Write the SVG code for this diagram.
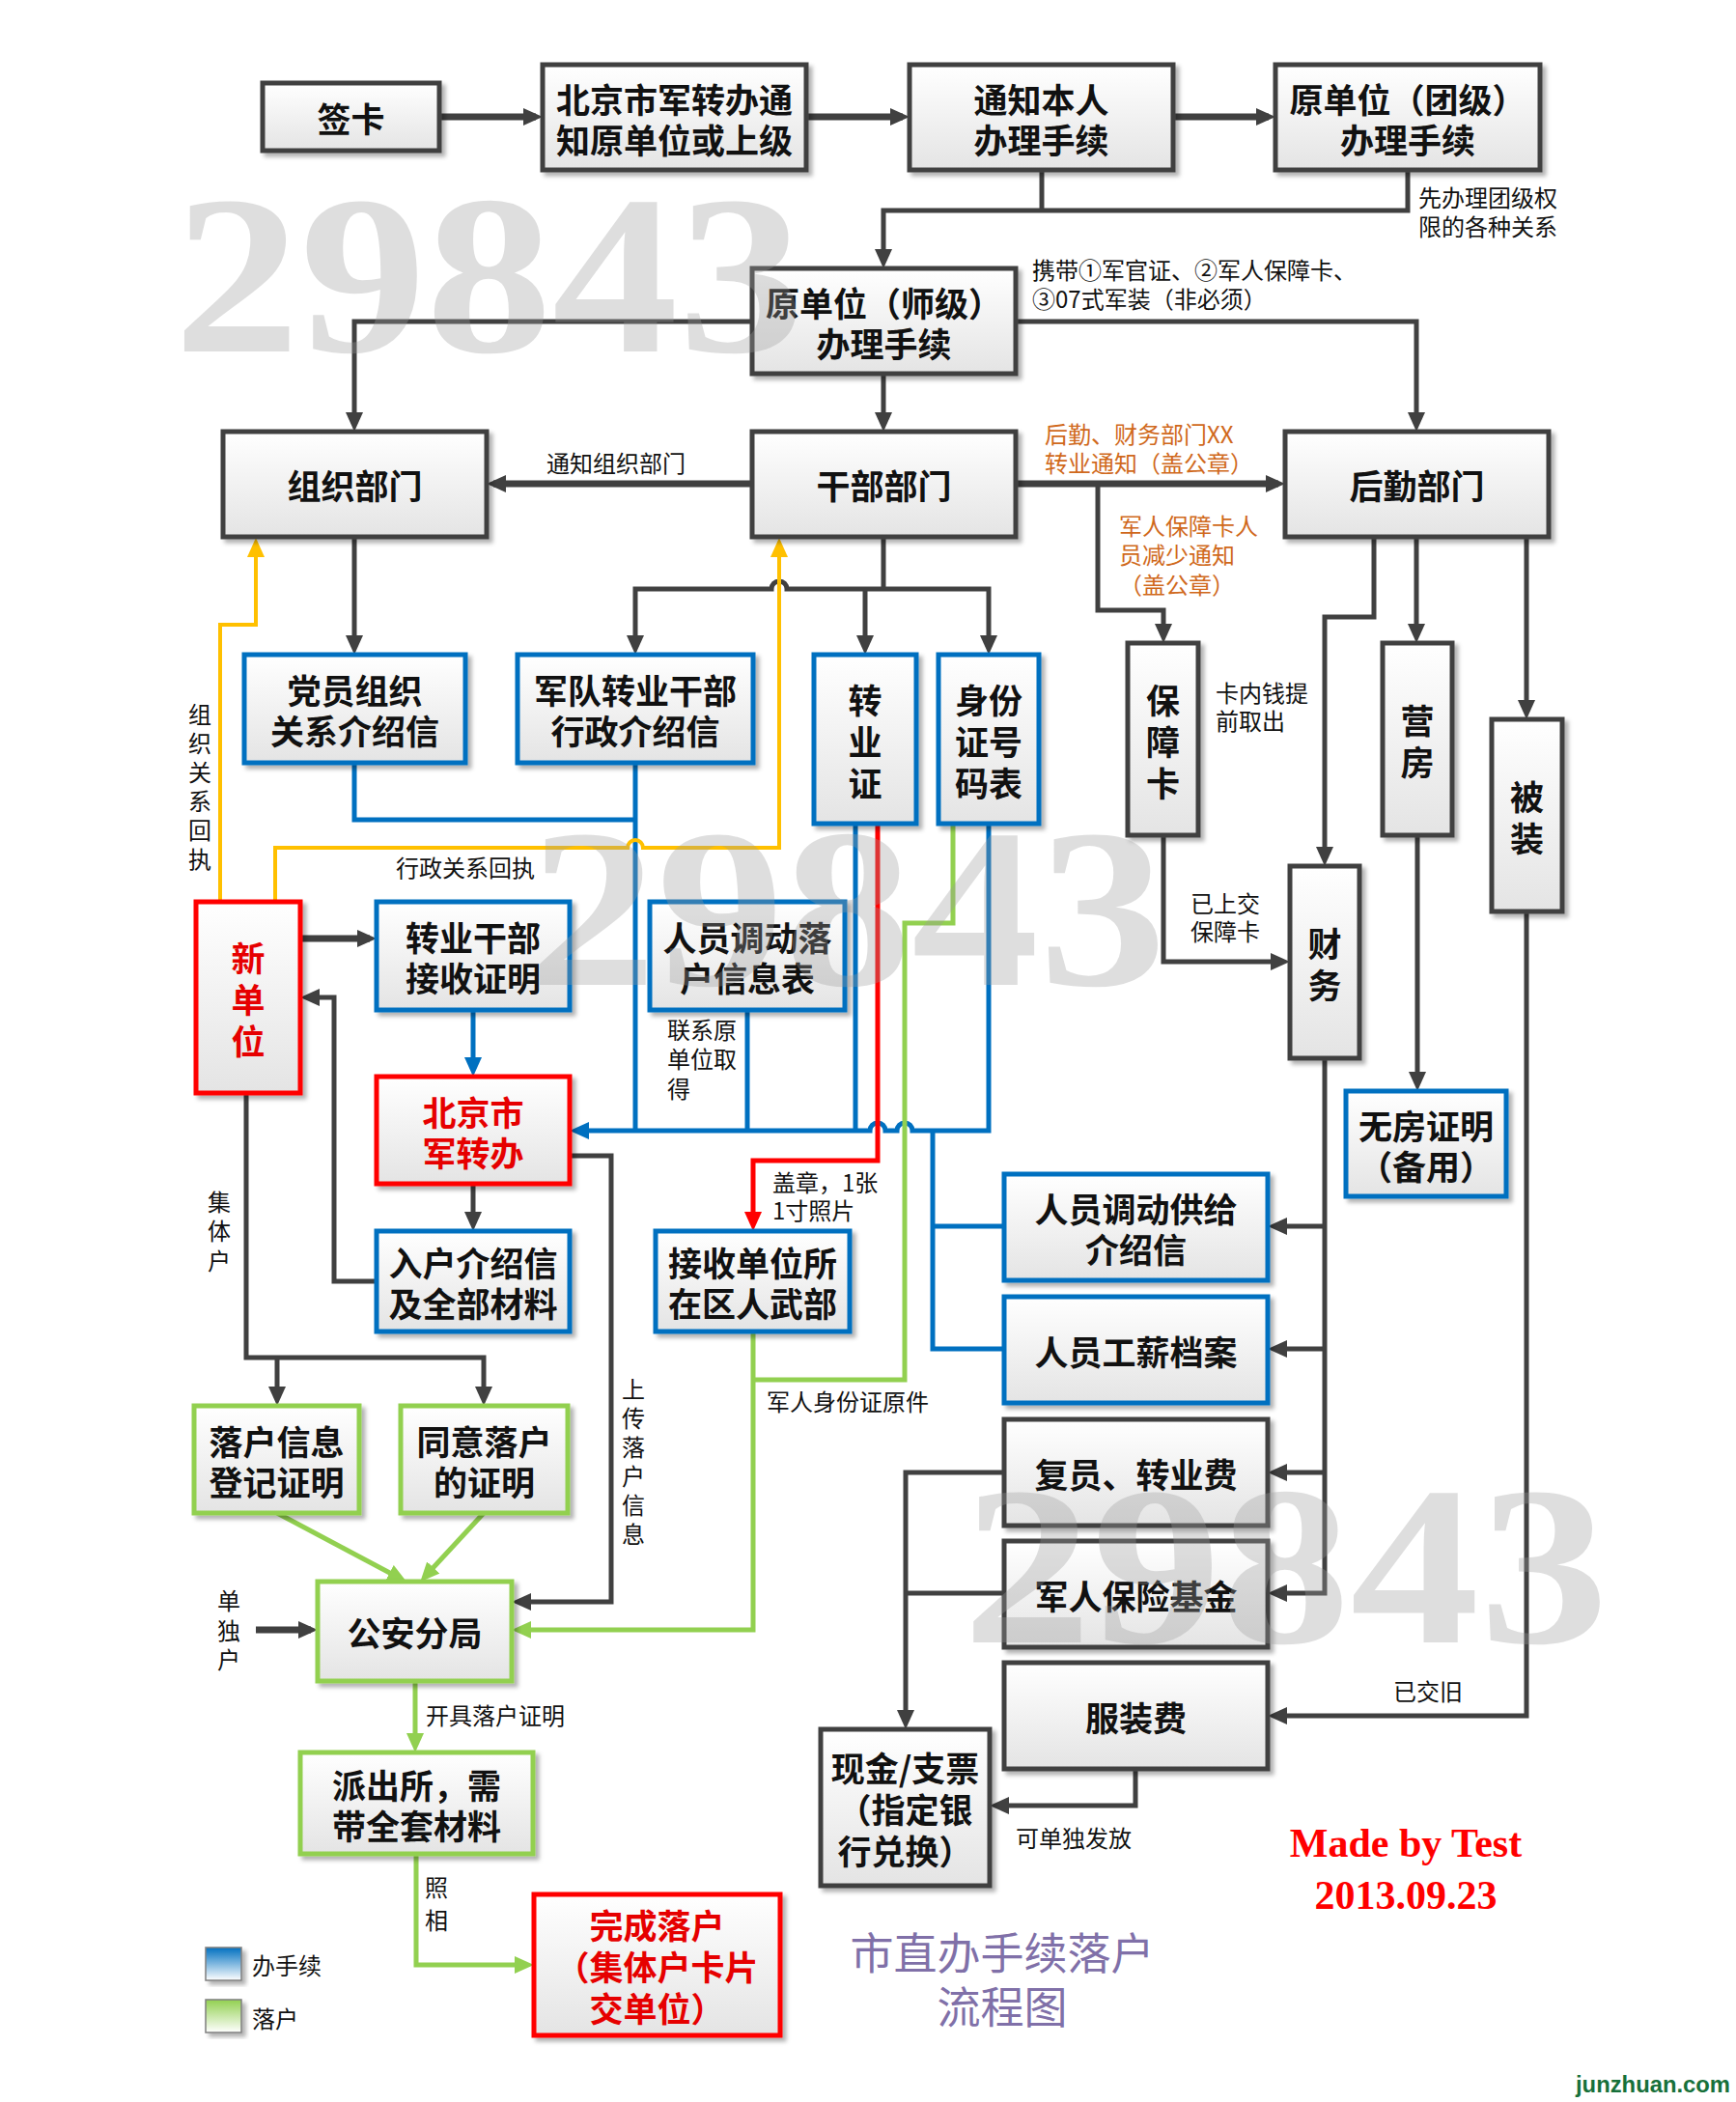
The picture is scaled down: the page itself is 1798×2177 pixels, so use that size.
<svg xmlns="http://www.w3.org/2000/svg" width="1798" height="2177" viewBox="0 0 1798 2177">
<defs>
<linearGradient id="gFill" x1="0" y1="0" x2="0" y2="1"><stop offset="0" stop-color="#ffffff"/><stop offset="1" stop-color="#e4e4e4"/></linearGradient>
<linearGradient id="gBlue" x1="0" y1="0" x2="0" y2="1"><stop offset="0" stop-color="#0070C0"/><stop offset="1" stop-color="#ffffff"/></linearGradient>
<linearGradient id="gGreen" x1="0" y1="0" x2="0" y2="1"><stop offset="0" stop-color="#92D050"/><stop offset="1" stop-color="#ffffff"/></linearGradient>
<filter id="sh" x="-10%" y="-10%" width="130%" height="130%"><feDropShadow dx="4" dy="4" stdDeviation="2" flood-color="#000" flood-opacity="0.3"/></filter>
<marker id="aK" markerUnits="userSpaceOnUse" markerWidth="20" markerHeight="18" refX="13" refY="9" orient="auto-start-reverse"><path d="M0,0 L20,9 L0,18 z" fill="#404040"/></marker>
<marker id="aB" markerUnits="userSpaceOnUse" markerWidth="20" markerHeight="18" refX="13" refY="9" orient="auto"><path d="M0,0 L20,9 L0,18 z" fill="#0070C0"/></marker>
<marker id="aR" markerUnits="userSpaceOnUse" markerWidth="20" markerHeight="18" refX="13" refY="9" orient="auto"><path d="M0,0 L20,9 L0,18 z" fill="#FF0000"/></marker>
<marker id="aG" markerUnits="userSpaceOnUse" markerWidth="20" markerHeight="18" refX="13" refY="9" orient="auto"><path d="M0,0 L20,9 L0,18 z" fill="#92D050"/></marker>
<marker id="aY" markerUnits="userSpaceOnUse" markerWidth="20" markerHeight="18" refX="13" refY="9" orient="auto"><path d="M0,0 L20,9 L0,18 z" fill="#FFC000"/></marker>
<style>
.bx{fill:url(#gFill);stroke-width:5;filter:url(#sh)}
.k{stroke:#404040}.b{stroke:#0070C0}.g{stroke:#92D050}.r{stroke:#FF0000}
.t{font-family:"Noto Sans CJK SC","Noto Sans",sans-serif;font-size:35px;font-weight:700;text-anchor:middle;dominant-baseline:central;fill:#111}
.tr{fill:#E60000}
.lb{font-family:"Noto Sans CJK SC","Noto Sans",sans-serif;font-size:24px;dominant-baseline:central;fill:#111}
.lv{text-anchor:middle}
.or{fill:#D0691C}
.cK{fill:none;stroke:#404040;stroke-width:5}
.cK6{fill:none;stroke:#404040;stroke-width:7}
.cB{fill:none;stroke:#0070C0;stroke-width:5}
.cR{fill:none;stroke:#FF0000;stroke-width:5}
.cG{fill:none;stroke:#92D050;stroke-width:5}
.cY{fill:none;stroke:#FFC000;stroke-width:4}
.wm{font-family:"Liberation Serif",serif;font-weight:700;font-size:235px;fill:#9a9a9a;fill-opacity:0.33}
</style>
</defs>
<rect width="1798" height="2177" fill="#ffffff"/>

<g id="connectors">
<path class="cK6" d="M455,121 H555" marker-end="url(#aK)"/>
<path class="cK6" d="M835,121 H935" marker-end="url(#aK)"/>
<path class="cK6" d="M1215,121 H1314" marker-end="url(#aK)"/>
<path class="cK" d="M1079,176 V218"/>
<path class="cK" d="M1458,176 V218 H915 V271" marker-end="url(#aK)"/>
<path class="cK" d="M779,333 H367 V440" marker-end="url(#aK)"/>
<path class="cK" d="M1052,333 H1467 V440" marker-end="url(#aK)"/>
<path class="cK" d="M915,387 V440" marker-end="url(#aK)"/>
<path class="cK6" d="M779,501 H511" marker-end="url(#aK)"/>
<path class="cK6" d="M1052,501 H1324" marker-end="url(#aK)"/>
<path class="cK" d="M1137,501 V632 H1205 V659" marker-end="url(#aK)"/>
<path class="cK" d="M367,556 V671" marker-end="url(#aK)"/>
<path class="cK" d="M915,556 V610"/>
<path class="cK" d="M658,671 V610 H799 A8,8 0 0 1 815,610 H1024 V671" marker-start="url(#aK)" marker-end="url(#aK)"/>
<path class="cK" d="M896,610 V671" marker-end="url(#aK)"/>
<path class="cK" d="M1423,556 V639 H1372 V890" marker-end="url(#aK)"/>
<path class="cK" d="M1467,556 V659" marker-end="url(#aK)"/>
<path class="cK" d="M1581,556 V738" marker-end="url(#aK)"/>
<path class="cK" d="M1205,865 V996 H1329" marker-end="url(#aK)"/>
<path class="cK" d="M1468,865 V1123" marker-end="url(#aK)"/>
<path class="cK" d="M1372,1097 V1650 H1320" marker-end="url(#aK)"/>
<path class="cK" d="M1372,1270 H1320" marker-end="url(#aK)"/>
<path class="cK" d="M1372,1397 H1320" marker-end="url(#aK)"/>
<path class="cK" d="M1372,1525 H1320" marker-end="url(#aK)"/>
<path class="cK" d="M1581,944 V1777 H1320" marker-end="url(#aK)"/>
<path class="cK" d="M1040,1525 H938 V1784" marker-end="url(#aK)"/>
<path class="cK" d="M1040,1650 H938"/>
<path class="cK" d="M1176,1832 V1870 H1032" marker-end="url(#aK)"/>
<path class="cK6" d="M311,972 H383" marker-end="url(#aK)"/>
<path class="cK" d="M390,1327 H346 V1033 H318" marker-end="url(#aK)"/>
<path class="cK" d="M490,1226 V1268" marker-end="url(#aK)"/>
<path class="cK" d="M590,1197 H633 V1659 H537" marker-end="url(#aK)"/>
<path class="cK" d="M255,1132 V1406 H501 V1449" marker-end="url(#aK)"/>
<path class="cK" d="M287,1406 V1449" marker-end="url(#aK)"/>
<path class="cK6" d="M265,1688 H322" marker-end="url(#aK)"/>

<path class="cB" d="M490,1046 V1108" marker-end="url(#aB)"/>
<path class="cB" d="M367,790 V849 H658"/>
<path class="cB" d="M658,790 V1171"/>
<path class="cB" d="M774,1046 V1171"/>
<path class="cB" d="M886,853 V1171"/>
<path class="cB" d="M1024,853 V1171 H945 A8,8 0 0 0 929,1171 H917 A8,8 0 0 0 901,1171 H597" marker-end="url(#aB)"/>
<path class="cB" d="M966,1171 V1397 H1040"/>
<path class="cB" d="M966,1270 H1040"/>

<path class="cR" d="M909,853 V1202 H780 V1268" marker-end="url(#aR)"/>

<path class="cG" d="M987,853 V956 H937 V1429 H780"/>
<path class="cG" d="M780,1379 V1688 H537" marker-end="url(#aG)"/>
<path class="cG" d="M287,1567 L415,1635" marker-end="url(#aG)"/>
<path class="cG" d="M501,1567 L440,1633" marker-end="url(#aG)"/>
<path class="cG" d="M430,1741 V1808" marker-end="url(#aG)"/>
<path class="cG" d="M431,1920 V2035 H546" marker-end="url(#aG)"/>

<path class="cY" d="M228,934 V647 H265 V564" marker-end="url(#aY)"/>
<path class="cY" d="M285,934 V878 H650 A8,8 0 0 1 666,878 H807 V564" marker-end="url(#aY)"/>
</g>

<g id="n-qianka"><rect class="bx k" x="272" y="86" width="183" height="70"/><text class="t" x="363.5" y="121">签卡</text></g>
<g id="n-bjnotice"><rect class="bx k" x="562" y="67" width="273" height="109"/><text class="t"><tspan x="698.5" y="100.5">北京市军转办通</tspan><tspan x="698.5" y="142.5">知原单位或上级</tspan></text></g>
<g id="n-notify"><rect class="bx k" x="942" y="67" width="273" height="109"/><text class="t"><tspan x="1078.5" y="100.5">通知本人</tspan><tspan x="1078.5" y="142.5">办理手续</tspan></text></g>
<g id="n-tuan"><rect class="bx k" x="1321" y="67" width="274" height="109"/><text class="t"><tspan x="1458" y="100.5">原单位（团级）</tspan><tspan x="1458" y="142.5">办理手续</tspan></text></g>
<g id="n-shi"><rect class="bx k" x="779" y="278" width="273" height="109"/><text class="t"><tspan x="915.5" y="311.5">原单位（师级）</tspan><tspan x="915.5" y="353.5">办理手续</tspan></text></g>
<g id="n-zuzhi"><rect class="bx k" x="231" y="447" width="273" height="109"/><text class="t" x="367.5" y="501.5">组织部门</text></g>
<g id="n-ganbu"><rect class="bx k" x="779" y="447" width="273" height="109"/><text class="t" x="915.5" y="501.5">干部部门</text></g>
<g id="n-houqin"><rect class="bx k" x="1331" y="447" width="273" height="109"/><text class="t" x="1467.5" y="501.5">后勤部门</text></g>

<g id="n-dangyuan"><rect class="bx b" x="253" y="678" width="229" height="112"/><text class="t"><tspan x="367.5" y="713">党员组织</tspan><tspan x="367.5" y="755">关系介绍信</tspan></text></g>
<g id="n-jundui"><rect class="bx b" x="536" y="678" width="244" height="112"/><text class="t"><tspan x="658" y="713">军队转业干部</tspan><tspan x="658" y="755">行政介绍信</tspan></text></g>
<g id="n-zyz"><rect class="bx b" x="843" y="678" width="106" height="175"/><text class="t"><tspan x="896" y="722.5">转</tspan><tspan x="896" y="765.5">业</tspan><tspan x="896" y="808.5">证</tspan></text></g>
<g id="n-sfz"><rect class="bx b" x="972" y="678" width="104" height="175"/><text class="t"><tspan x="1024" y="722.5">身份</tspan><tspan x="1024" y="765.5">证号</tspan><tspan x="1024" y="808.5">码表</tspan></text></g>

<g id="n-bzk"><rect class="bx k" x="1168" y="666" width="73" height="199"/><text class="t"><tspan x="1204.5" y="722.5">保</tspan><tspan x="1204.5" y="765.5">障</tspan><tspan x="1204.5" y="808.5">卡</tspan></text></g>
<g id="n-yingfang"><rect class="bx k" x="1432" y="666" width="72" height="199"/><text class="t"><tspan x="1468" y="744">营</tspan><tspan x="1468" y="787">房</tspan></text></g>
<g id="n-beizhuang"><rect class="bx k" x="1545" y="745" width="73" height="199"/><text class="t"><tspan x="1581.5" y="823">被</tspan><tspan x="1581.5" y="866">装</tspan></text></g>
<g id="n-caiwu"><rect class="bx k" x="1336" y="897" width="72" height="199"/><text class="t"><tspan x="1372" y="975">财</tspan><tspan x="1372" y="1018">务</tspan></text></g>

<g id="n-xindanwei"><rect class="bx r" x="203" y="934" width="108" height="198"/><text class="t tr"><tspan x="257" y="990">新</tspan><tspan x="257" y="1033">单</tspan><tspan x="257" y="1076">位</tspan></text></g>
<g id="n-zyjs"><rect class="bx b" x="390" y="934" width="200" height="112"/><text class="t"><tspan x="490" y="969">转业干部</tspan><tspan x="490" y="1011">接收证明</tspan></text></g>
<g id="n-rydd"><rect class="bx b" x="673" y="934" width="202" height="112"/><text class="t"><tspan x="774" y="969">人员调动落</tspan><tspan x="774" y="1011">户信息表</tspan></text></g>
<g id="n-bjzb"><rect class="bx r" x="390" y="1115" width="200" height="111"/><text class="t tr"><tspan x="490" y="1149.5">北京市</tspan><tspan x="490" y="1191.5">军转办</tspan></text></g>
<g id="n-ruhu"><rect class="bx b" x="390" y="1275" width="200" height="104"/><text class="t"><tspan x="490" y="1306">入户介绍信</tspan><tspan x="490" y="1348">及全部材料</tspan></text></g>
<g id="n-wuzhuang"><rect class="bx b" x="679" y="1275" width="201" height="104"/><text class="t"><tspan x="779.5" y="1306">接收单位所</tspan><tspan x="779.5" y="1348">在区人武部</tspan></text></g>
<g id="n-wufang"><rect class="bx b" x="1394" y="1130" width="166" height="109"/><text class="t"><tspan x="1477" y="1163.5">无房证明</tspan><tspan x="1477" y="1205.5">（备用）</tspan></text></g>

<g id="n-gongji"><rect class="bx b" x="1040" y="1216" width="273" height="110"/><text class="t"><tspan x="1176.5" y="1250">人员调动供给</tspan><tspan x="1176.5" y="1292">介绍信</tspan></text></g>
<g id="n-gongxin"><rect class="bx b" x="1040" y="1343" width="273" height="110"/><text class="t" x="1176.5" y="1398">人员工薪档案</text></g>
<g id="n-fuyuan"><rect class="bx k" x="1040" y="1470" width="273" height="110"/><text class="t" x="1176.5" y="1525">复员、转业费</text></g>
<g id="n-baoxian"><rect class="bx k" x="1040" y="1596" width="273" height="110"/><text class="t" x="1176.5" y="1651">军人保险基金</text></g>
<g id="n-fuzhuang"><rect class="bx k" x="1040" y="1722" width="273" height="110"/><text class="t" x="1176.5" y="1777">服装费</text></g>
<g id="n-xianjin"><rect class="bx k" x="850" y="1791" width="175" height="162"/><text class="t"><tspan x="937.5" y="1829">现金/支票</tspan><tspan x="937.5" y="1872">（指定银</tspan><tspan x="937.5" y="1915">行兑换）</tspan></text></g>

<g id="n-luohudj"><rect class="bx g" x="201" y="1456" width="171" height="111"/><text class="t"><tspan x="286.5" y="1490.5">落户信息</tspan><tspan x="286.5" y="1532.5">登记证明</tspan></text></g>
<g id="n-tongyi"><rect class="bx g" x="415" y="1456" width="173" height="111"/><text class="t"><tspan x="501.5" y="1490.5">同意落户</tspan><tspan x="501.5" y="1532.5">的证明</tspan></text></g>
<g id="n-gongan"><rect class="bx g" x="329" y="1638" width="201" height="103"/><text class="t" x="429.5" y="1689.5">公安分局</text></g>
<g id="n-paichusuo"><rect class="bx g" x="311" y="1815" width="241" height="105"/><text class="t"><tspan x="431.5" y="1846.5">派出所，需</tspan><tspan x="431.5" y="1888.5">带全套材料</tspan></text></g>
<g id="n-wancheng"><rect class="bx r" x="553" y="1962" width="255" height="146"/><text class="t tr"><tspan x="680.5" y="1992">完成落户</tspan><tspan x="680.5" y="2035">（集体户卡片</tspan><tspan x="680.5" y="2078">交单位）</tspan></text></g>

<g id="labels">
<text class="lb"><tspan x="1469" y="203">先办理团级权</tspan><tspan x="1469" y="233">限的各种关系</tspan></text>
<text class="lb"><tspan x="1069" y="278">携带①军官证、②军人保障卡、</tspan><tspan x="1069" y="308">③07式军装（非必须）</tspan></text>
<text class="lb" x="566" y="478">通知组织部门</text>
<text class="lb or"><tspan x="1082" y="448">后勤、财务部门XX</tspan><tspan x="1082" y="478">转业通知（盖公章）</tspan></text>
<text class="lb or"><tspan x="1159" y="543">军人保障卡人</tspan><tspan x="1159" y="573">员减少通知</tspan><tspan x="1159" y="604">（盖公章）</tspan></text>
<text class="lb"><tspan x="1259" y="716">卡内钱提</tspan><tspan x="1259" y="745">前取出</tspan></text>
<text class="lb"><tspan x="1233" y="934">已上交</tspan><tspan x="1233" y="963">保障卡</tspan></text>
<text class="lb lv"><tspan x="207" y="738">组</tspan><tspan x="207" y="768">织</tspan><tspan x="207" y="798">关</tspan><tspan x="207" y="828">系</tspan><tspan x="207" y="858">回</tspan><tspan x="207" y="888">执</tspan></text>
<text class="lb" x="410" y="897">行政关系回执</text>
<text class="lb"><tspan x="691" y="1065">联系原</tspan><tspan x="691" y="1095">单位取</tspan><tspan x="691" y="1126">得</tspan></text>
<text class="lb"><tspan x="800" y="1223">盖章，1张</tspan><tspan x="800" y="1252">1寸照片</tspan></text>
<text class="lb" x="794" y="1450">军人身份证原件</text>
<text class="lb lv"><tspan x="227" y="1243">集</tspan><tspan x="227" y="1273">体</tspan><tspan x="227" y="1304">户</tspan></text>
<text class="lb lv"><tspan x="656" y="1437">上</tspan><tspan x="656" y="1467">传</tspan><tspan x="656" y="1497">落</tspan><tspan x="656" y="1527">户</tspan><tspan x="656" y="1557">信</tspan><tspan x="656" y="1587">息</tspan></text>
<text class="lb lv"><tspan x="237" y="1656">单</tspan><tspan x="237" y="1687">独</tspan><tspan x="237" y="1717">户</tspan></text>
<text class="lb" x="441" y="1775">开具落户证明</text>
<text class="lb lv"><tspan x="452" y="1953">照</tspan><tspan x="452" y="1987">相</tspan></text>
<text class="lb" x="1052" y="1902">可单独发放</text>
<text class="lb" x="1443" y="1750">已交旧</text>
</g>

<g id="legend">
<rect x="213" y="2017" width="37" height="34" fill="url(#gBlue)" stroke="#7f7f7f" stroke-width="1.5" filter="url(#sh)"/>
<text class="lb" x="261" y="2034">办手续</text>
<rect x="213" y="2071" width="37" height="34" fill="url(#gGreen)" stroke="#7f7f7f" stroke-width="1.5" filter="url(#sh)"/>
<text class="lb" x="261" y="2089">落户</text>
</g>

<g id="title">
<text font-family="Noto Sans CJK SC, sans-serif" font-size="45" fill="#8070A8" text-anchor="middle" dominant-baseline="central"><tspan x="1038" y="2020">市直办手续落户</tspan><tspan x="1038" y="2076">流程图</tspan></text>
<text font-family="Liberation Serif, serif" font-weight="700" font-size="42" fill="#FF0000" text-anchor="middle" dominant-baseline="central"><tspan x="1456" y="1909">Made by Test</tspan><tspan x="1456" y="1963">2013.09.23</tspan></text>
<text x="1632" y="2167" font-family="Liberation Sans, Arial, sans-serif" font-weight="700" font-size="23" fill="#17703A" textLength="160" lengthAdjust="spacingAndGlyphs">junzhuan.com</text>
</g>

<g id="watermark">
<text class="wm" x="180" y="364" textLength="653" lengthAdjust="spacingAndGlyphs">29843</text>
<text class="wm" x="548" y="1020" textLength="660" lengthAdjust="spacingAndGlyphs">29843</text>
<text class="wm" x="997" y="1701" textLength="669" lengthAdjust="spacingAndGlyphs">29843</text>
</g>
</svg>
